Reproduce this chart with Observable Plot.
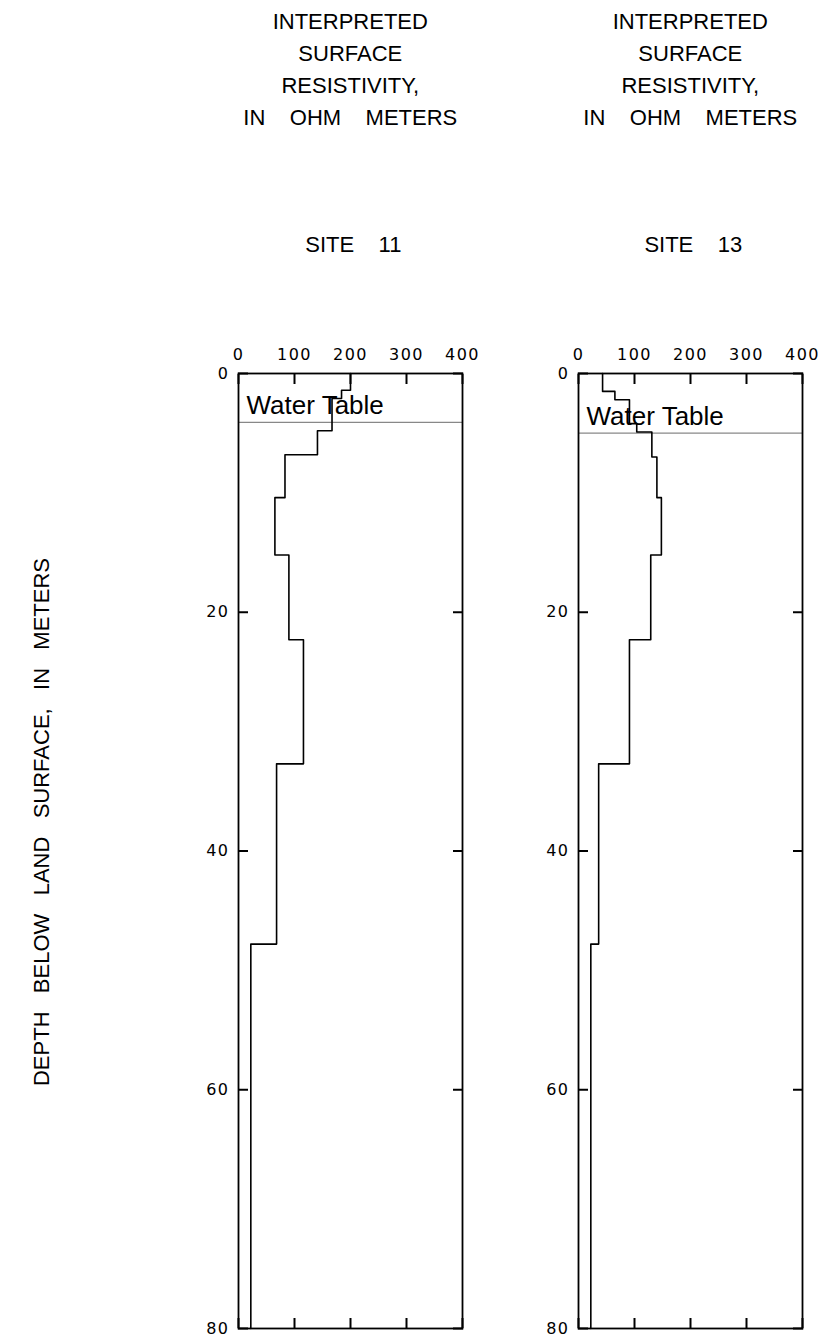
<!DOCTYPE html>
<html>
<head>
<meta charset="utf-8">
<script src="https://cdn.jsdelivr.net/npm/d3@7"></script>
<script src="https://cdn.jsdelivr.net/npm/@observablehq/plot@0.6"></script>
<style>
  html, body { margin: 0; padding: 0; background: #fff; }
  #root { position: relative; width: 827px; height: 1342px; overflow: hidden; font-family: "Liberation Sans", Arial, sans-serif; color: #000; }
  .title { position: absolute; width: 300px; text-align: center; font-size: 22px; line-height: 32px; white-space: pre; }
  .site { position: absolute; width: 300px; text-align: center; font-size: 22px; white-space: pre; }
  .ylab { position: absolute; font-size: 22px; white-space: pre; transform: translate(-50%, -50%) rotate(-90deg); }
  .panel { position: absolute; }
  .panel g[aria-label$="tick label"], .panel g[aria-label$="tick label"] text { letter-spacing: 1.5px; font-size: 16px !important; font-family: "DejaVu Sans", sans-serif !important; }
</style>
</head>
<body>
<div id="root"></div>
<script>
// ---- Data ----
const xTicks = [0, 100, 200, 300, 400];
const yTicks = [0, 20, 40, 60, 80];

const site11LayerTops = [0, 1.4, 2.1, 4.8, 6.8, 10.4, 15.2, 22.3, 32.7, 47.8];
const site11Resistivity = [200, 184, 167, 141, 83, 65, 90, 116, 68, 22];
const site11WaterTable = 4.1;

const site13LayerTops = [0, 1.5, 2.2, 4.2, 4.9, 7.0, 10.4, 15.2, 22.3, 32.7, 47.8];
const site13Resistivity = [43, 65, 91, 104, 131, 140, 148, 129, 91, 36, 22];
const site13WaterTable = 5.0;

const maxDepth = 80;
const titleLines = ["INTERPRETED", "SURFACE", "RESISTIVITY,", "IN    OHM    METERS"];
const siteNames = ["SITE    11", "SITE    13"];
const yTitle = "DEPTH   BELOW   LAND   SURFACE,   IN   METERS";
const waterLabel = "Water Table";

// ---- Layout ----
const root = document.getElementById("root");
const marginLeft = 60, marginRight = 20, marginTop = 40, marginBottom = 12;
const plotW = 224, plotH = 955;
const panelLefts = [238.3, 578.3];
const panelTop = 373.3;

function profile(tops, res) {
  const pts = tops.map((t, i) => ({depth: t, res: res[i]}));
  pts.push({depth: maxDepth, res: res[res.length - 1]});
  return pts;
}

function makePanel(tops, res, wt) {
  const data = profile(tops, res);
  const blank = () => "";
  const tickFont = {fontSize: 16, fontFamily: "DejaVu Sans, sans-serif", fill: "#000"};
  return Plot.plot({
    width: marginLeft + plotW + marginRight,
    height: marginTop + plotH + marginBottom,
    marginLeft, marginRight, marginTop, marginBottom,
    style: {fontFamily: "DejaVu Sans, sans-serif", fontSize: "16px", color: "#000", background: "transparent", overflow: "visible"},
    x: {domain: [0, 400], axis: null},
    y: {domain: [0, maxDepth], reverse: true, axis: null},
    marks: [
      Plot.ruleY([wt], {stroke: "#888", strokeWidth: 1.2}),
      Plot.text([wt], {y: d => d, frameAnchor: "left", text: () => waterLabel, textAnchor: "start", lineAnchor: "bottom", dx: 8, dy: -8, fontSize: 26, fontFamily: "Liberation Sans, Arial, sans-serif", fill: "#000"}),
      Plot.line(data, {x: "res", y: "depth", curve: "step-before", stroke: "#000", strokeWidth: 1.6}),
      Plot.frame({stroke: "#000", strokeWidth: 1.8}),
      Plot.axisX(xTicks, {anchor: "top", tickSize: 0, tickPadding: 14, label: null, ...tickFont}),
      Plot.axisX(xTicks, {anchor: "top", tickSize: -10, tickFormat: blank, label: null, strokeWidth: 2}),
      Plot.axisX(xTicks, {anchor: "bottom", tickSize: -10, tickFormat: blank, label: null, strokeWidth: 2}),
      Plot.axisY(yTicks, {anchor: "left", tickSize: 0, tickPadding: 9, label: null, ...tickFont}),
      Plot.axisY(yTicks, {anchor: "left", tickSize: -10, tickFormat: blank, label: null, strokeWidth: 2}),
      Plot.axisY(yTicks, {anchor: "right", tickSize: -10, tickFormat: blank, label: null, strokeWidth: 2})
    ]
  });
}

const sites = [
  [site11LayerTops, site11Resistivity, site11WaterTable],
  [site13LayerTops, site13Resistivity, site13WaterTable]
];

sites.forEach(([tops, res, wt], i) => {
  const cx = panelLefts[i] + plotW / 2;
  const t = document.createElement("div");
  t.className = "title";
  t.style.left = (cx - 150) + "px";
  t.style.top = "6px";
  t.textContent = titleLines.join("\n");
  root.appendChild(t);

  const s = document.createElement("div");
  s.className = "site";
  s.style.left = (cx - 150 + 3) + "px";
  s.style.top = "232px";
  s.textContent = siteNames[i];
  root.appendChild(s);

  const p = makePanel(tops, res, wt);
  const wrap = document.createElement("div");
  wrap.className = "panel";
  wrap.style.left = (panelLefts[i] - marginLeft) + "px";
  wrap.style.top = (panelTop - marginTop) + "px";
  wrap.appendChild(p);
  root.appendChild(wrap);
});

const yl = document.createElement("div");
yl.className = "ylab";
yl.style.left = "42px";
yl.style.top = "822px";
yl.textContent = yTitle;
root.appendChild(yl);
</script>
</body>
</html>
